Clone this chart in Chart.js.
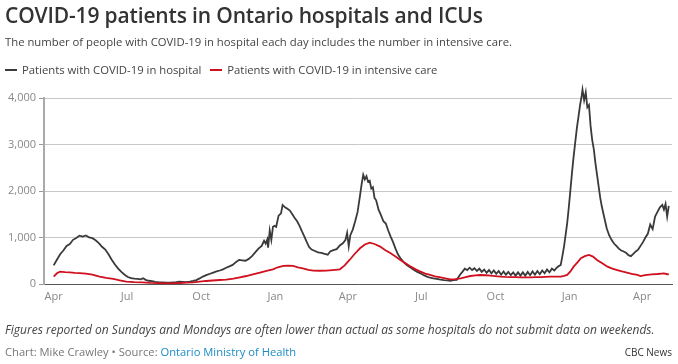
<!DOCTYPE html>
<html>
<head>
<meta charset="utf-8">
<script src="https://cdn.jsdelivr.net/npm/chart.js@4/dist/chart.umd.min.js"></script>
<style>
  body { margin: 0; background: #fff; font-family: "Open Sans", sans-serif; }
  #wrap { position: relative; width: 678px; height: 364px; overflow: hidden; }
  #chart { position: absolute; left: 0; top: 0; }
  .txt { position: absolute; white-space: nowrap; }
  #title { left: 5px; top: 1px; font-size: 21px; font-weight: 600; color: #333; letter-spacing: -0.15px; }
  #sub { left: 5px; top: 34px; font-size: 11.3px; color: #444; }
  #legend { left: 5px; top: 62px; font-size: 11.3px; color: #444; }
  #legend span.sw { display: inline-block; width: 12px; height: 2px; vertical-align: middle; margin-right: 5px; margin-top: -2px; }
  #note { left: 5px; top: 321px; font-size: 12px; font-style: italic; color: #444; }
  #credit { left: 5px; top: 344px; font-size: 11.2px; color: #777; }
  #credit a { color: #1a8ac6; text-decoration: none; }
  #brand { right: 6px; top: 345px; font-size: 10px; color: #333; }
</style>
</head>
<body>
<div id="wrap">
  <canvas id="chart" width="678" height="364"></canvas>
  <div class="txt" id="title">COVID-19 patients in Ontario hospitals and ICUs</div>
  <div class="txt" id="sub">The number of people with COVID-19 in hospital each day includes the number in intensive care.</div>
  <div class="txt" id="legend"><span class="sw" style="background:#3a3a3a"></span>Patients with COVID-19 in hospital<span style="display:inline-block;width:9px"></span><span class="sw" style="background:#d0101e"></span>Patients with COVID-19 in intensive care</div>
  <div class="txt" id="note">Figures reported on Sundays and Mondays are often lower than actual as some hospitals do not submit data on weekends.</div>
  <div class="txt" id="credit">Chart: Mike Crawley • Source: <a>Ontario Ministry of Health</a></div>
  <div class="txt" id="brand">CBC News</div>
</div>
<script>
// days counted from 1 Apr 2020
const tickDays = [0, 91, 183, 275, 365, 456, 548, 640, 730];
const tickLabels = ["Apr", "Jul", "Oct", "Jan", "Apr", "Jul", "Oct", "Jan", "Apr"];

const hospDays = [0,4,8,12,16,20,24,28,32,36,40,44,48,52,56,60,64,68,72,76,80,84,88,92,96,100,104,108,111,114,118,122,126,131,136,140,144,148,152,156,160,164,169,173,177,181,185,190,194,198,202,206,210,214,218,222,226,230,234,238,242,246,250,254,258,261,263,265,266,268,270,272,274,276,279,282,284,287,290,293,296,299,302,305,308,311,314,317,320,324,328,332,336,340,343,347,351,355,359,362,364,366,368,371,374,377,380,382,384,386,388,390,392,394,396,398,400,403,406,409,412,415,418,421,424,427,430,434,438,443,447,451,455,459,463,467,471,475,480,484,488,492,496,500,504,507,510,513,516,519,522,525,528,531,534,537,540,543,546,549,552,555,558,561,564,567,570,573,576,579,582,585,588,591,594,597,600,603,606,609,612,615,618,621,624,627,629,631,633,635,637,639,641,643,645,647,649,651,653,655,656,658,660,662,664,666,668,670,672,674,676,678,680,683,686,689,692,695,698,701,704,707,710,713,716,719,722,725,728,731,734,737,740,743,746,749,752,755,757,759,761,763];
const hospital = [400,520,640,720,820,860,950,990,1040,1020,1045,1000,985,940,880,800,740,640,520,420,330,260,200,150,125,115,110,100,125,90,70,60,45,35,32,30,30,35,40,50,45,40,50,65,85,120,160,195,220,245,270,290,315,350,380,410,470,520,510,500,540,600,680,760,820,930,870,960,780,1150,950,1230,1250,1230,1470,1520,1700,1650,1620,1580,1500,1420,1350,1250,1130,1020,900,790,740,710,680,670,650,630,700,730,750,830,880,950,1100,810,1050,1170,1350,1550,1900,2150,2350,2250,2320,2200,2220,2050,2080,1850,1800,1600,1480,1350,1300,1150,1020,900,760,640,560,470,410,350,300,260,230,190,160,135,120,110,95,85,80,70,85,90,200,260,330,300,350,300,340,280,330,260,310,240,300,230,290,220,280,200,270,200,260,190,250,180,250,180,250,180,260,190,270,200,280,210,290,230,310,250,330,290,350,390,410,600,800,1050,1310,1650,2025,2400,2745,3050,3350,3600,3850,4050,4180,3950,4120,3800,3850,3400,3100,2900,2600,2350,2100,1850,1660,1430,1200,1050,950,870,820,760,720,700,670,620,600,650,700,740,820,900,1000,1080,1280,1180,1450,1550,1650,1700,1600,1720,1450,1680];

const icuDays = [0,4,8,14,20,26,32,40,48,57,65,74,82,90,100,110,120,130,140,150,157,165,173,181,189,197,206,214,223,231,239,247,256,264,272,278,285,291,297,303,309,316,322,330,338,346,355,361,367,373,380,386,392,398,405,411,418,424,430,437,443,449,455,461,467,473,480,486,492,498,505,511,517,523,529,536,542,548,554,560,567,573,579,585,592,598,604,610,616,622,629,633,637,641,645,650,654,659,664,669,674,680,687,693,699,705,711,717,724,728,732,736,742,749,754,757,761,763];
const icu = [160,230,265,255,250,240,235,225,200,160,130,108,80,50,40,35,25,20,15,18,22,30,36,50,65,75,86,95,115,145,172,205,245,280,316,360,388,395,388,360,338,305,287,285,287,300,316,400,517,640,768,850,890,860,805,730,660,590,517,440,373,315,265,225,194,165,144,120,100,105,122,150,172,185,194,188,180,170,158,152,150,146,144,142,144,146,150,155,158,158,160,175,194,270,373,470,553,600,625,590,517,450,373,330,300,270,245,220,194,170,185,194,205,215,225,230,210,210];

const yTicks = [0, 1000, 2000, 3000, 4000];

function pts(xs, ys) {
  return xs.map((d, i) => ({ x: d, y: ys[i] }));
}

new Chart(document.getElementById("chart"), {
  type: "line",
  data: {
    datasets: [
      {
        label: "Patients with COVID-19 in intensive care",
        data: pts(icuDays, icu),
        borderColor: "#d0101e",
        borderWidth: 1.8,
        pointRadius: 0,
        tension: 0,
        clip: false,
        order: 1,
      },
      {
        label: "Patients with COVID-19 in hospital",
        data: pts(hospDays, hospital),
        borderColor: "#3a3a3a",
        borderWidth: 1.8,
        pointRadius: 0,
        tension: 0,
        clip: false,
        order: 2,
      },
    ],
  },
  options: {
    responsive: false,
    animation: false,
    layout: { padding: { top: 98, right: 6, left: 0, bottom: 0 } },
    plugins: { legend: { display: false }, tooltip: { enabled: false } },
    scales: {
      x: {
        type: "linear",
        min: -12,
        max: 767,
        afterFit: (s) => { s.height = 80; },
        afterBuildTicks: (s) => { s.ticks = tickDays.map((v) => ({ value: v })); },
        grid: { display: false, drawTicks: false },
        border: { color: "#555", width: 1 },
        ticks: {
          padding: 6,
          color: "#888",
          font: { family: "Open Sans", size: 11 },
          autoSkip: false,
          maxRotation: 0,
          callback: (v) => tickLabels[tickDays.indexOf(v)],
        },
      },
      y: {
        min: 0,
        max: 4000,
        afterFit: (s) => { s.width = 44; },
        afterBuildTicks: (s) => { s.ticks = yTicks.map((v) => ({ value: v })); },
        grid: {
          color: "#c8c8c8",
          borderDash: [3, 3],
          tickBorderDash: [],
          tickColor: "#999",
          tickLength: 5,
        },
        border: { color: "#aaa", width: 2, dash: [] },
        ticks: {
          padding: 3,
          color: "#888",
          font: { family: "Open Sans", size: 11 },
          callback: (v) => v.toLocaleString("en-US"),
        },
      },
    },
  },
});
</script>
</body>
</html>
